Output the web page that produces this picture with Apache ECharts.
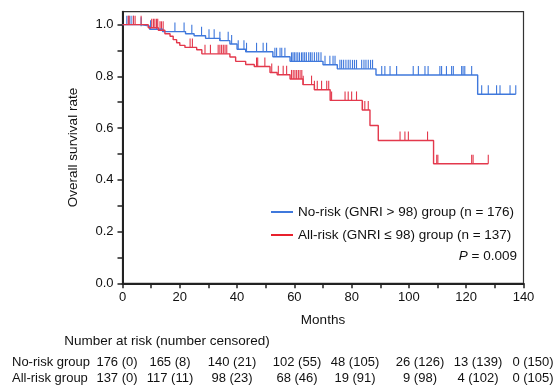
<!DOCTYPE html>
<html><head><meta charset="utf-8">
<script src="https://cdn.jsdelivr.net/npm/echarts@6/dist/echarts.min.js"></script>
<style>html,body{margin:0;padding:0;background:#fff}#c{width:560px;height:385px}</style>
</head><body><div id="c"></div>
<script>
// ---- data ----
const blueName = 'No-risk (GNRI > 98) group (n = 176)';
const redName = 'All-risk (GNRI \u2264 98) group (n = 137)';
const blueTimes = [0, 6.5, 9.5, 14, 22, 25, 29, 34, 37.5, 40, 43, 52.5, 58.5, 70, 75, 88.5, 124, 137.3];
const blueSurv  = [1, 0.994, 0.982, 0.973, 0.965, 0.957, 0.947, 0.938, 0.925, 0.905, 0.895, 0.876, 0.858, 0.845, 0.829, 0.805, 0.731, 0.731];
const redTimes = [0, 9, 12.5, 14.8, 16.6, 17.7, 18.9, 20, 21.8, 25.9, 27.7, 37.5, 39.5, 43, 46, 51.5, 54, 58.5, 63, 67, 72.5, 83.7, 86.4, 89.3, 108.6, 127.7];
const redSurv  = [1, 0.988, 0.978, 0.965, 0.955, 0.942, 0.93, 0.92, 0.912, 0.903, 0.887, 0.875, 0.858, 0.846, 0.838, 0.815, 0.806, 0.79, 0.768, 0.748, 0.707, 0.67, 0.61, 0.552, 0.462, 0.462];
const blueCensor = [1.5, 2.3, 3, 3.8, 6.5, 9.8, 11.9, 18.3, 21.5, 24.2, 27.6, 30.2, 32, 34, 36.9, 38.1, 40.4, 42.4, 43.3, 46.8, 49.1, 50.3, 53.2, 53.8, 55, 55.6, 56.7, 59, 59.5, 60, 60.6, 61.2, 61.8, 62.5, 63, 63.6, 64.2, 65, 65.6, 66.2, 67, 67.8, 68.5, 69.3, 70.7, 72.4, 73.5, 74.2, 75.9, 76.5, 77.2, 78, 78.8, 79.5, 80.3, 81, 81.7, 83.5, 84.3, 85, 85.8, 86.6, 87.3, 90.5, 91.6, 93.4, 95.7, 101.5, 103.3, 105.6, 106.7, 110.8, 111.4, 113.1, 114.9, 115.5, 118.4, 118.9, 119.5, 121.9, 125.4, 127.7, 130.6, 131.8, 135.3, 137.3];
const redCensor = [2, 2.3, 3.8, 4.4, 6.5, 10.2, 10.8, 11.3, 11.9, 12.3, 13.1, 13.6, 14.2, 23.6, 24.4, 28.8, 30.7, 33.4, 34, 34.6, 35.2, 35.8, 36.4, 46.8, 47.2, 49.7, 52.1, 54.4, 56.1, 57.3, 59, 59.6, 60.2, 60.8, 61.4, 62, 62.6, 63.1, 66, 67, 68, 69.5, 71.3, 72, 73, 77.7, 78.8, 80, 81.7, 83.8, 84.6, 85.8, 96.9, 98.6, 99.8, 106.5, 109.7, 110.1, 121.9, 122.4, 127.7];
const xTicks = [0, 10, 20, 30, 40, 50, 60, 70, 80, 90, 100, 110, 120, 130, 140];
const xLabels = [0, 20, 40, 60, 80, 100, 120, 140];
const yTicks = [0, 0.1, 0.2, 0.3, 0.4, 0.5, 0.6, 0.7, 0.8, 0.9, 1.0];
const yLabels = [0, 0.2, 0.4, 0.6, 0.8, 1.0];
const riskHeader = 'Number at risk (number censored)';
const riskGroups = ['No-risk group', 'All-risk group'];
const riskNoRisk = ['176 (0)', '165 (8)', '140 (21)', '102 (55)', '48 (105)', '26 (126)', '13 (139)', '0 (150)'];
const riskAllRisk = ['137 (0)', '117 (11)', '98 (23)', '68 (46)', '19 (91)', '9 (98)', '4 (102)', '0 (105)'];
const pText = '= 0.009';

// ---- layout / style ----
const BLUE = '#3f78dc', RED = '#e3384c';
const FONT = 'Liberation Sans';
const FS = 13.5, FS_TABLE = 13, FS_TICK = 13;
const riskColCenters = [117, 170, 232, 297, 355, 420, 478, 533];

function survAt(ts, ss, t) { let s = ss[0]; for (let i = 0; i < ts.length; i++) { if (ts[i] <= t) s = ss[i]; else break; } return s; }
function censorData(cs, ts, ss) { return cs.map(t => [t, survAt(ts, ss, t)]); }
function censorSeries(name, cs, ts, ss, color) {
  return {
    type: 'custom', name: name + ' censor', silent: true, z: 3,
    data: censorData(cs, ts, ss),
    renderItem: (params, api) => {
      const p = api.coord([api.value(0), api.value(1)]);
      return { type: 'line', shape: { x1: p[0], y1: p[1], x2: p[0], y2: p[1] - 9 }, style: { stroke: color, lineWidth: 1.1 } };
    }
  };
}

const chart = echarts.init(document.getElementById('c'), null, { renderer: 'canvas' });
const graphics = [];
graphics.push({ type: 'text', x: 167, y: 334, style: { text: riskHeader, font: FS + 'px ' + FONT, fill: '#111', align: 'center', verticalAlign: 'top' } });
[riskNoRisk, riskAllRisk].forEach((row, r) => {
  const y = 355.5 + r * 16.5;
  graphics.push({ type: 'text', x: 12, y: y, style: { text: riskGroups[r], font: FS_TABLE + 'px ' + FONT, fill: '#111', verticalAlign: 'top' } });
  row.forEach((txt, c) => {
    graphics.push({ type: 'text', x: riskColCenters[c], y: y, style: { text: txt, font: FS_TABLE + 'px ' + FONT, fill: '#111', align: 'center', verticalAlign: 'top' } });
  });
});
graphics.push({ type: 'text', x: 517, y: 249, style: { text: '{i|P} ' + pText, align: 'right', verticalAlign: 'top', font: FS + 'px ' + FONT, fill: '#111', rich: { i: { fontStyle: 'italic', fontFamily: FONT, fontSize: FS, fill: '#111' } } } });

chart.setOption({
  animation: false,
  backgroundColor: '#fff',
  textStyle: { fontFamily: FONT },
  grid: { left: 122.5, right: 36.5, top: 11.7, bottom: 101.7, show: true, borderColor: '#333', borderWidth: 1.2, containLabel: false },
  legend: {
    orient: 'vertical', left: 266, top: 200, itemWidth: 22, itemHeight: 2, icon: 'rect', itemGap: 9,
    data: [{ name: blueName, itemStyle: { color: BLUE } }, { name: redName, itemStyle: { color: '#e8202c' } }],
    textStyle: { fontSize: FS, color: '#111', fontFamily: FONT }
  },
  xAxis: {
    type: 'value', min: 0, max: 140, name: 'Months', nameLocation: 'middle', nameGap: 30,
    nameTextStyle: { fontSize: FS, color: '#111', fontFamily: FONT },
    axisLine: { show: true, lineStyle: { color: '#222', width: 2 } },
    axisTick: { show: true, length: 5, lineStyle: { color: '#222', width: 1.5 }, customValues: xTicks },
    axisLabel: { customValues: xLabels, fontSize: FS_TICK, color: '#111', margin: 8, fontFamily: FONT },
    splitLine: { show: false }
  },
  yAxis: {
    type: 'value', min: 0, max: 1.05, name: 'Overall survival rate', nameLocation: 'middle', nameGap: 42,
    nameTextStyle: { fontSize: FS, color: '#111', fontFamily: FONT },
    axisLine: { show: true, lineStyle: { color: '#222', width: 2 } },
    axisTick: { show: true, length: 5, lineStyle: { color: '#222', width: 1.5 }, customValues: yTicks },
    axisLabel: { customValues: yLabels, fontSize: FS_TICK, color: '#111', margin: 9, fontFamily: FONT, formatter: v => v.toFixed(1) },
    splitLine: { show: false }
  },
  series: [
    { type: 'line', name: blueName, step: 'end', showSymbol: false, symbol: 'none', color: BLUE, lineStyle: { color: BLUE, width: 1.4 }, z: 4,
      data: blueTimes.map((t, i) => [t, blueSurv[i]]) },
    { type: 'line', name: redName, step: 'end', showSymbol: false, symbol: 'none', color: RED, lineStyle: { color: RED, width: 1.4 }, z: 4,
      data: redTimes.map((t, i) => [t, redSurv[i]]) },
    censorSeries('blue', blueCensor, blueTimes, blueSurv, BLUE),
    censorSeries('red', redCensor, redTimes, redSurv, RED)
  ],
  graphic: graphics
});
</script></body></html>
